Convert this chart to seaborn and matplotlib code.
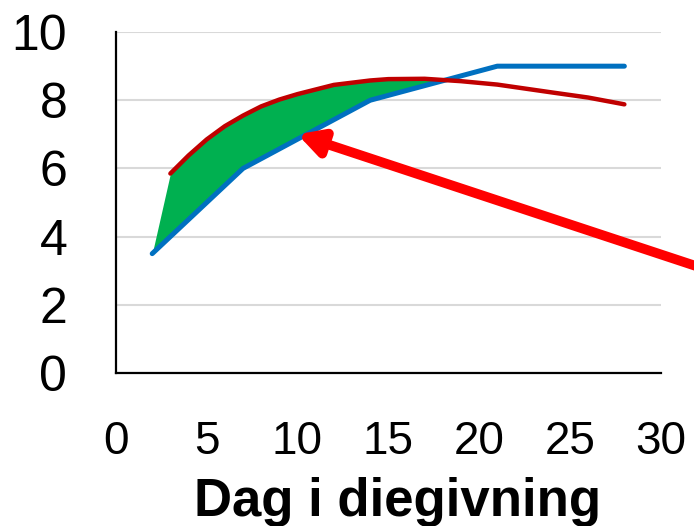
import numpy as np
import pandas as pd
import seaborn as sns
import matplotlib.pyplot as plt

# Data
blue_days = [2, 7, 14, 21, 28]
blue_vals = [3.5, 6.0, 8.0, 9.0, 9.0]

red_days = [3, 4, 5, 6, 7, 8, 9, 10, 12, 14, 15, 17, 19, 21, 24, 26, 28]
red_vals = [5.85, 6.38, 6.85, 7.24, 7.55, 7.82, 8.02, 8.18, 8.45, 8.58, 8.62, 8.63,
            8.56, 8.46, 8.23, 8.08, 7.88]

x_ticks = [0, 5, 10, 15, 20, 25, 30]
y_ticks = [0, 2, 4, 6, 8, 10]
x_label = "Dag i diegivning"

# arrow (data coords)
arrow_tip = (10.0, 7.0)
arrow_tail = (33.0, 2.95)

sns.set_theme(style="white")
plt.rcParams["font.family"] = ["Liberation Sans", "DejaVu Sans"]

fig = plt.figure(figsize=(6.94, 5.26), dpi=100)
ax = fig.add_axes([0.167, 0.291, 0.785, 0.648])

blue_df = pd.DataFrame({"day": blue_days, "val": blue_vals})
red_df = pd.DataFrame({"day": red_days, "val": red_vals})

# green area between red and blue until they cross
grid = np.linspace(blue_days[0], max(red_days), 800)
top = np.interp(grid, [blue_days[0]] + red_days, [blue_vals[0]] + red_vals)
bot = np.interp(grid, blue_days, blue_vals)
cross = np.argmax((top - bot < 0) & (grid > 5))
ax.fill_between(grid[:cross + 1], bot[:cross + 1] + 0.06, top[:cross + 1],
                color="#00b050", lw=0, zorder=2)

sns.lineplot(data=blue_df, x="day", y="val", ax=ax, color="#0070c0", linewidth=3.6,
             solid_capstyle="round", solid_joinstyle="round", zorder=3)
sns.lineplot(data=red_df, x="day", y="val", ax=ax, color="#c00000", linewidth=3.2,
             solid_capstyle="round", solid_joinstyle="round", zorder=4)

ax.annotate("", xy=arrow_tip, xytext=arrow_tail, annotation_clip=False,
            arrowprops=dict(arrowstyle="-|>,head_length=0.7,head_width=0.38",
                            mutation_scale=20, color="#ff0000", lw=7,
                            shrinkA=0, shrinkB=0),
            zorder=6)

ax.set_xlim(0, 30)
ax.set_ylim(0, 10)
ax.set_xticks(x_ticks)
ax.set_yticks(y_ticks)
ax.yaxis.grid(True, color="#d9d9d9", lw=1.5)
ax.xaxis.grid(False)
for s in ["top", "right"]:
    ax.spines[s].set_visible(False)
for s in ["left", "bottom"]:
    ax.spines[s].set_color("black")
    ax.spines[s].set_linewidth(1.6)
ax.tick_params(axis="y", length=0, pad=35, labelsize=36, labelcolor="black")
ax.tick_params(axis="x", length=0, pad=34, labelsize=33, labelcolor="black")
ax.set_xlabel(x_label, fontsize=38, fontweight="bold", labelpad=9, color="black")
ax.xaxis.label.set_x(0.517)
ax.set_ylabel("")

fig.savefig("out.png", dpi=100)
